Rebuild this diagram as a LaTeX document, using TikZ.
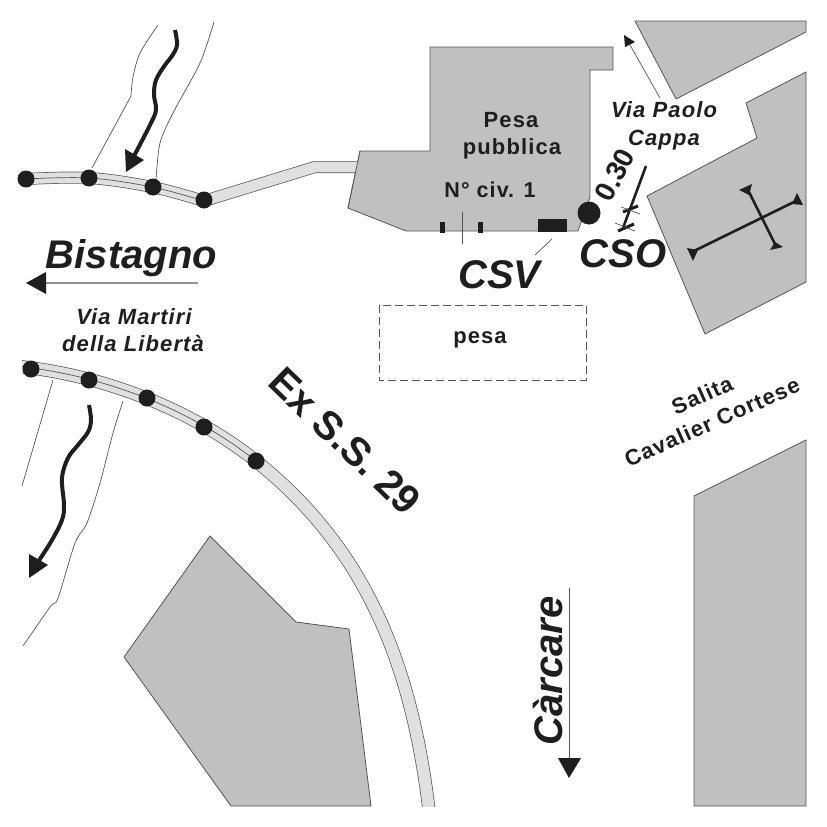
\documentclass[tikz,border=0pt]{standalone}
\usepackage{fontspec}
\setmainfont{Liberation Sans}
\newfontfamily\spaced[LetterSpace=5]{Liberation Sans}
\definecolor{blk}{HTML}{1E1E1E}
\definecolor{bld}{HTML}{C0C0C0}
\definecolor{rd}{HTML}{E0E0E0}
\definecolor{edge}{HTML}{555555}
\tikzset{
  building/.style={fill=bld,draw=edge,line width=0.8pt},
  thinline/.style={draw=edge,line width=0.7pt},
  pole/.style={circle,fill=blk,minimum size=17pt,inner sep=0pt},
  head/.style={fill=blk,draw=none},
  rivercourse/.style={draw=blk,line width=4pt,line join=round},
  big/.style={text=blk,font=\bfseries\itshape\fontsize{40}{40}\selectfont,inner sep=0pt,anchor=base},
  streetname/.style={text=blk,font=\spaced\bfseries\itshape\fontsize{22}{22}\selectfont,inner sep=0pt,anchor=base},
  plain/.style={text=blk,font=\spaced\bfseries\fontsize{22}{22}\selectfont,inner sep=0pt,anchor=base},
  roadname/.style={text=blk,font=\bfseries\fontsize{40}{40}\selectfont,inner sep=0pt},
}
\begin{document}
\begin{tikzpicture}[x=1pt,y=-1pt]
\useasboundingbox (0,0) rectangle (827,827);
\fill[white] (0,0) rectangle (827,827);
% buildings
\draw[building] (430,47) -- (613,47) -- (613,70) -- (590,70) -- (590,197) -- (578,231) -- (406,231) -- (348,208) -- (360,151) -- (430,151) -- cycle;
\draw[building] (635,21) -- (806,21) -- (806,32) -- (676,99) -- cycle;
\draw[building] (806,72) -- (746,103) -- (757,138) -- (647,196) -- (705,334) -- (806,282) -- cycle;
\draw[building] (806,440) -- (694,496) -- (694,806) -- (806,806) -- cycle;
\draw[building] (210,536) -- (296,622) -- (349,629) -- (371,806) -- (231,806) -- (124,657) -- cycle;
% roads
\begin{scope}
\clip (22,0) rectangle (827,806);
\draw[edge,line width=13.2pt] (15,366) .. controls (105,375) and (192,410) .. (256,461) .. controls (357,542) and (409,648) .. (428.5,806) -- (430,830);
\draw[rd,line width=11.8pt] (15,366) .. controls (105,375) and (192,410) .. (256,461) .. controls (357,542) and (409,648) .. (428.5,806) -- (430,830);
\draw[thinline] (15,366) .. controls (105,375) and (192,410) .. (256,461);
\end{scope}
\draw[edge,line width=12pt,line join=miter] plot[smooth,tension=0.6] coordinates {(26,179) (89,178) (152,187) (204,201)} -- (315,167) -- (358,167);
\draw[rd,line width=10.6pt,line join=miter] plot[smooth,tension=0.6] coordinates {(26,179) (89,178) (152,187) (204,201)} -- (315,167) -- (359,167);
\draw[thinline] plot[smooth,tension=0.6] coordinates {(26,179) (89,178) (152,187) (204,201)};
\fill[bld] (349,206) -- (360,152) -- (372,152) -- (372,206) -- cycle;
\draw[edge,line width=0.8pt] (348,208) -- (360,151);
% river banks
\draw[thinline] plot[smooth,tension=0.5] coordinates {(158,25) (140,53) (133,77) (131,96)} -- (92,168);
\draw[thinline] plot[smooth,tension=0.5] coordinates {(214,22) (200,63) (173,113) (160,143) (156,180)};
\draw[thinline] (53,380) -- (22,486);
\draw[thinline] plot[smooth,tension=0.5] coordinates {(123,401) (113,433) (100,483) (87,523) (75,543) (58,598) (50,607) (23,646)};
% river courses
\draw[rivercourse] plot[smooth,tension=0.6] coordinates {(175,30) (177,45) (172,56) (165,65) (156,80) (154,95) (156,110) (150,125) (134,156)};
\fill[head] (125,149) -- (126,172) -- (144,160) -- cycle;
\draw[rivercourse] plot[smooth,tension=0.6] coordinates {(89,405) (91,420) (88,432) (78,445) (68,458) (62,478) (64,505) (62,520) (52,540) (38,562)};
\fill[head] (29,554) -- (29,578) -- (48,565) -- cycle;
% poles
\node[pole] (a1) at (26,179) {};
\node[pole] (a2) at (89,178) {};
\node[pole] (a3) at (153,187) {};
\node[pole] (a4) at (204,200) {};
\node[pole] (b1) at (31,369) {};
\node[pole] (b2) at (89,380) {};
\node[pole] (b3) at (147,398) {};
\node[pole] (b4) at (204,427) {};
\node[pole] (b5) at (256,461) {};
\node[circle,fill=blk,minimum size=23pt,inner sep=0pt] (cso) at (589,213) {};
% marks on the building
\fill[blk] (440,222) rectangle (445,233);
\fill[blk] (478,222) rectangle (483,233);
\fill[blk] (538,219) rectangle (567,232);
\coordinate (n1) at (462,212); \coordinate (n2) at (462,244);
\draw[thinline] (n1) -- (n2);
\coordinate (v1) at (552,239); \coordinate (v2) at (535,255);
\draw[thinline] (v1) -- (v2);
\draw[edge,line width=0.8pt,dash pattern=on 8pt off 4pt] (379,305) rectangle (586,380);
% measure at CSO
\draw[blk,line width=2.6pt] (646,166) -- (623,228);
\draw[blk,line width=3pt] (623,212) -- (638,206);
\draw[blk,line width=3pt] (618,231) -- (634,224);
\draw[thinline] (621,207) -- (640,214);
\draw[thinline] (615,223) -- (635,231);
% compass
\draw[blk,line width=2.6pt] (692,252) -- (798,200);
\draw[blk,line width=2.6pt] (747,188) -- (777,248);
\fill[head] (687,248) -- (698,250) -- (693,261) -- cycle;
\fill[head] (797,193) -- (803,205) -- (792,204) -- cycle;
\fill[head] (739,190) -- (752,184) -- (749,195) -- cycle;
\fill[head] (770,250) -- (783,247) -- (775,242) -- cycle;
% arrows
\draw[gray!85,line width=1.4pt] (198,283) -- (45,283);
\fill[head] (26,283) -- (46,272) -- (46,294) -- cycle;
\draw[thinline] (660,98) -- (630,45);
\fill[head] (624,35) -- (625,47) -- (635,42) -- cycle;
\draw[edge,line width=0.9pt] (569,588) -- (569,760);
\fill[head] (558,758) -- (581,758) -- (569,778) -- cycle;
% text
\node[big] (t1) at (131.5,268) {Bistagno};
\node[big] (t2) at (499.5,288) {CSV};
\node[big] (t3) at (623,267) {CSO};
\node[big,rotate=90,anchor=center] (t4) at (548,671) {Càrcare};
\node[roadname,rotate=-44] (t5) at (345,441) {Ex S.S. 29};
\node[roadname,rotate=62,font=\bfseries\fontsize{28}{28}\selectfont] (t6) at (615,175) {0.30};
\node[plain] (t7) at (511,127) {Pesa};
\node[plain] (t8) at (512,154) {pubblica};
\node[plain,font=\spaced\bfseries\fontsize{21.5}{21.5}\selectfont] (t9) at (490,197) {N° civ. 1};
\node[plain] (t10) at (480,343) {pesa};
\node[streetname] (t11) at (664,117) {Via Paolo};
\node[streetname] (t12) at (664,145) {Cappa};
\node[streetname] (t13) at (134,324) {Via Martiri};
\node[streetname] (t14) at (133,351) {della Libertà};
\node[plain,rotate=24,anchor=center] (t15) at (702,395) {Salita};
\node[plain,rotate=24,anchor=center] (t16) at (712,422) {Cavalier Cortese};
\end{tikzpicture}
\end{document}
